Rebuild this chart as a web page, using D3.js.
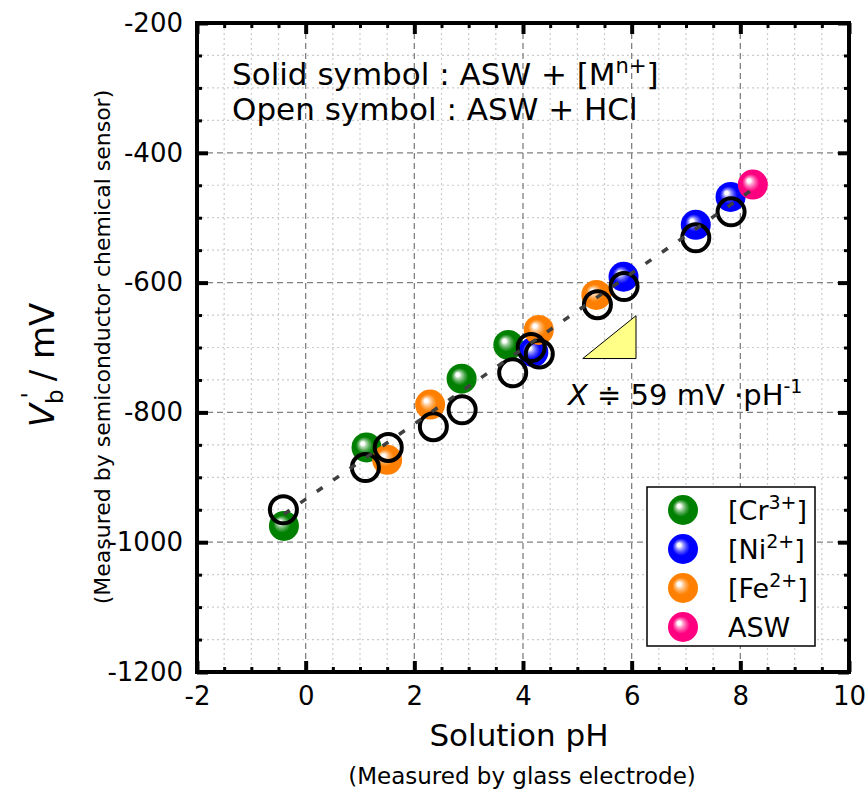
<!DOCTYPE html>
<html><head><meta charset="utf-8">
<script src="https://cdn.jsdelivr.net/npm/d3@7"></script>
<style>
body{margin:0;background:#fff;}
svg{display:block;font-family:"DejaVu Sans",Verdana,sans-serif;}
</style></head>
<body>
<svg id="chart" width="868" height="794"></svg>
<script>
// ---- data ----
const crX = [-0.40, 1.12, 2.87, 3.73];
const crY = [-975, -854, -748, -696];
const niX = [4.19, 5.85, 7.18, 7.82];
const niY = [-707, -591, -511, -468];
const feX = [1.50, 2.29, 4.29, 5.35];
const feY = [-873, -788, -673, -619];
const aswX = [8.23];
const aswY = [-449];
const hclX = [-0.41, 1.10, 1.52, 2.35, 2.88, 3.81, 4.15, 4.30, 5.37, 5.86, 7.18, 7.83];
const hclY = [-950, -885, -854, -822, -796, -739, -700, -710, -634, -606, -531, -491];
const fitX = [-0.40, 8.20];
const fitY = [-957, -458];
const triX = [5.10, 6.08, 6.08];
const triY = [-717, -717, -651];
const xTicks = [-2, 0, 2, 4, 6, 8, 10];
const yTicks = [-200, -400, -600, -800, -1000, -1200];
const legendLabels = ["Cr", "Ni", "Fe", "ASW"];
const legendCharges = ["3+", "2+", "2+", ""];

const series = [
  {key:"cr", x:crX, y:crY, color:"#008000"},
  {key:"ni", x:niX, y:niY, color:"#0000ff"},
  {key:"fe", x:feX, y:feY, color:"#ff8000"},
  {key:"asw", x:aswX, y:aswY, color:"#ff0080"}
];

const svg = d3.select("#chart");
const L = 197, T = 23, R = 849, B = 672;
const x = d3.scaleLinear().domain([-2, 10]).range([L, R]);
const y = d3.scaleLinear().domain([-1200, -200]).range([B, T]);
const fmt = d => String(d);  // plain hyphen-minus like the reference

// gradients
const defs = svg.append("defs");
series.forEach(s => {
  const g = defs.append("radialGradient").attr("id", "g-" + s.key)
    .attr("cx", "50%").attr("cy", "50%").attr("r", "50%")
    .attr("fx", "35%").attr("fy", "35%");
  const mix = t => d3.interpolateRgb(s.color, "#fff")(t);
  g.append("stop").attr("offset", "0%").attr("stop-color", "#ffffff");
  g.append("stop").attr("offset", "12%").attr("stop-color", "#ffffff");
  g.append("stop").attr("offset", "24%").attr("stop-color", mix(0.65));
  g.append("stop").attr("offset", "40%").attr("stop-color", mix(0.3));
  g.append("stop").attr("offset", "58%").attr("stop-color", s.color);
  g.append("stop").attr("offset", "100%").attr("stop-color", s.color);
});

// minor grid
const xMinor = d3.range(-2, 10.01, 0.5).filter(v => Math.abs(v % 2) > 1e-6);
const yMinor = d3.range(-1200, -199, 50).filter(v => v % 200 !== 0);
const grid = svg.append("g");
grid.selectAll(".xm").data(xMinor).join("line")
  .attr("x1", d => x(d)).attr("x2", d => x(d)).attr("y1", T).attr("y2", B)
  .attr("stroke", "#cccccc").attr("stroke-width", 1.2).attr("stroke-dasharray", "2,3");
grid.selectAll(".ym").data(yMinor).join("line")
  .attr("y1", d => y(d)).attr("y2", d => y(d)).attr("x1", L).attr("x2", R)
  .attr("stroke", "#cccccc").attr("stroke-width", 1.2).attr("stroke-dasharray", "2,3");
grid.selectAll(".xM").data(xTicks.slice(1, -1)).join("line")
  .attr("x1", d => x(d)).attr("x2", d => x(d)).attr("y1", T).attr("y2", B)
  .attr("stroke", "#808080").attr("stroke-width", 1.3).attr("stroke-dasharray", "6,4");
grid.selectAll(".yM").data(yTicks.slice(1, -1)).join("line")
  .attr("y1", d => y(d)).attr("y2", d => y(d)).attr("x1", L).attr("x2", R)
  .attr("stroke", "#808080").attr("stroke-width", 1.3).attr("stroke-dasharray", "6,4");

// axes with ticks inward (all four sides)
function mkAxis(axisFn, scale, vals, len, w, offX, offY) {
  const g = svg.append("g").attr("transform", `translate(${offX},${offY})`)
    .call(axisFn(scale).tickValues(vals).tickSize(len).tickFormat(""));
  g.select(".domain").remove();
  g.selectAll(".tick line").attr("stroke", "#000").attr("stroke-width", w);
  return g;
}
mkAxis(d3.axisTop, x, xTicks, 11, 4, 0, B);
mkAxis(d3.axisTop, x, xMinor, 5, 3, 0, B);
mkAxis(d3.axisBottom, x, xTicks, 11, 4, 0, T);
mkAxis(d3.axisBottom, x, xMinor, 5, 3, 0, T);
mkAxis(d3.axisRight, y, yTicks, 11, 4, L, 0);
mkAxis(d3.axisRight, y, yMinor, 5, 3, L, 0);
mkAxis(d3.axisLeft, y, yTicks, 11, 4, R, 0);
mkAxis(d3.axisLeft, y, yMinor, 5, 3, R, 0);

// tick labels
const xl = svg.append("g").attr("transform", `translate(0,${B})`)
  .call(d3.axisBottom(x).tickValues(xTicks).tickSize(0).tickPadding(15).tickFormat(fmt));
xl.select(".domain").remove();
xl.selectAll("text").attr("font-size", 26).attr("font-family", "DejaVu Sans").attr("fill", "#000");
const yl = svg.append("g").attr("transform", `translate(${L},0)`)
  .call(d3.axisLeft(y).tickValues(yTicks).tickSize(0).tickPadding(14).tickFormat(fmt));
yl.select(".domain").remove();
yl.selectAll("text").attr("font-size", 26).attr("font-family", "DejaVu Sans").attr("fill", "#000");

// frame
svg.append("rect").attr("x", L).attr("y", T).attr("width", R - L).attr("height", B - T)
  .attr("fill", "none").attr("stroke", "#000").attr("stroke-width", 4);

// triangle
svg.append("path")
  .attr("d", d3.line().x((d, i) => x(triX[i])).y((d, i) => y(triY[i]))(triX) + "Z")
  .attr("fill", "#ffff88").attr("stroke", "#000").attr("stroke-width", 1);

// filled points
series.forEach(s => {
  svg.append("g").selectAll("circle").data(s.x).join("circle")
    .attr("cx", d => x(d)).attr("cy", (d, i) => y(s.y[i])).attr("r", 15)
    .attr("fill", `url(#g-${s.key})`);
});
// open points
svg.append("g").selectAll("circle").data(hclX).join("circle")
  .attr("cx", d => x(d)).attr("cy", (d, i) => y(hclY[i])).attr("r", 13.5)
  .attr("fill", "none").attr("stroke", "#000").attr("stroke-width", 4);

// fit line
svg.append("path")
  .attr("d", d3.line().x((d, i) => x(fitX[i])).y((d, i) => y(fitY[i]))(fitX))
  .attr("stroke", "#404040").attr("stroke-width", 3.5).attr("stroke-dasharray", "7,13")
  .attr("fill", "none");

// annotation text
const ann = svg.append("g").attr("font-size", 31).attr("fill", "#000");
const t1 = ann.append("text").attr("x", 232).attr("y", 85);
t1.append("tspan").text("Solid symbol : ASW + [M");
t1.append("tspan").attr("dy", -12).attr("font-size", 21).text("n+");
t1.append("tspan").attr("dy", 12).text("]");
ann.append("text").attr("x", 232).attr("y", 120).text("Open symbol : ASW + HCl");

const slope = svg.append("text").attr("x", 568).attr("y", 405).attr("font-size", 29);
slope.append("tspan").attr("font-style", "italic").text("X");
slope.append("tspan").text(" \u2251 59 mV \u00b7pH");
slope.append("tspan").attr("dy", -12).attr("font-size", 19).text("-1");

// legend
const lg = svg.append("g");
lg.append("rect").attr("x", 647).attr("y", 487).attr("width", 168).attr("height", 159)
  .attr("fill", "#fff").attr("stroke", "#000").attr("stroke-width", 1.5);
series.forEach((s, i) => {
  const cy = 510 + i * 39;
  lg.append("circle").attr("cx", 683).attr("cy", cy).attr("r", 15).attr("fill", `url(#g-${s.key})`);
  const t = lg.append("text").attr("x", 728).attr("y", cy + 10).attr("font-size", 27);
  if (legendCharges[i]) {
    t.append("tspan").text("[" + legendLabels[i]);
    t.append("tspan").attr("dy", -11).attr("font-size", 19).text(legendCharges[i]);
    t.append("tspan").attr("dy", 11).text("]");
  } else {
    t.append("tspan").text(legendLabels[i]);
  }
});

// axis titles
svg.append("text").attr("x", (L + R) / 2 - 4).attr("y", 746).attr("text-anchor", "middle")
  .attr("font-size", 31).text("Solution pH");
svg.append("text").attr("x", (L + R) / 2 - 1).attr("y", 784).attr("text-anchor", "middle")
  .attr("font-size", 23).text("(Measured by glass electrode)");

const yt = svg.append("text").attr("transform", "translate(54,365) rotate(-90)")
  .attr("text-anchor", "middle").attr("font-size", 34);
yt.append("tspan").attr("font-style", "italic").text("V");
yt.append("tspan").attr("dy", 9).attr("font-size", 23).text("b");
yt.append("tspan").attr("dy", -25).attr("dx", -9).attr("font-size", 23).text("'");
yt.append("tspan").attr("dy", 16).text(" / mV");
svg.append("text").attr("transform", "translate(110,347) rotate(-90)")
  .attr("text-anchor", "middle").attr("font-size", 22)
  .text("(Measured by semiconductor chemical sensor)");
</script>
</body></html>
